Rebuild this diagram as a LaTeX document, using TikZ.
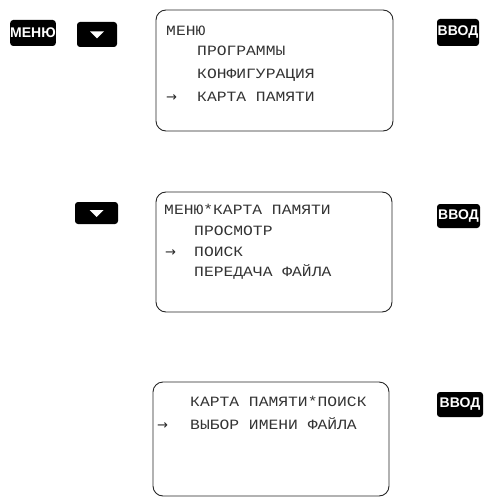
\documentclass[tikz,border=0pt]{standalone}
\usepackage{fontspec}
\newfontfamily\lcd[FakeStretch=1.15]{Liberation Mono}
\newfontfamily\btn{Liberation Sans}
\newfontfamily\arr{DejaVu Sans}
\begin{document}
\begin{tikzpicture}[x=1pt,y=-1pt,
  screen/.style={draw=black!85, line width=0.9pt, rounded corners=10pt, rectangle, inner sep=0pt},
  key/.style={fill=black, rounded corners=3pt, inner sep=0pt, text=white,
    font=\btn\bfseries\fontsize{14}{15}\selectfont},
  txt/.style={anchor=base west, inner sep=0pt, text=black!80,
    font=\lcd\fontsize{14.2}{16}\selectfont},
  arrow/.style={anchor=base west, inner sep=0pt, text=black!85,
    font=\arr\fontsize{13}{15}\selectfont}]
\useasboundingbox (0,0) rectangle (487,497);

% buttons, row 1
\node[key, minimum width=42pt, minimum height=26pt] (menu) at (33,33) {МЕНЮ};
\node[key, minimum width=40pt, minimum height=25pt] (down1) at (97,34.5) {};
\fill[white] ([xshift=-7pt,yshift=3pt]down1.center) -- ([xshift=7pt,yshift=3pt]down1.center) -- ([yshift=-4pt]down1.center) -- cycle;
\node[key, minimum width=42pt, minimum height=27pt] (enter1) at (458,32.5) {ВВОД};

% screen 1
\node[screen, minimum width=237pt, minimum height=121pt] (scr1) at (274.5,70.5) {};
\node[txt] (s1l1) at (166,36) {МЕНЮ};
\node[txt] (s1l2) at (197,56) {ПРОГРАММЫ};
\node[txt] (s1l3) at (197,79) {КОНФИГУРАЦИЯ};
\node[arrow] (s1a) at (166,102) {→};
\node[txt] (s1l4) at (197,102) {КАРТА ПАМЯТИ};

% row 2
\node[key, minimum width=43pt, minimum height=22pt] (down2) at (96.5,213) {};
\fill[white] ([xshift=-7pt,yshift=3pt]down2.center) -- ([xshift=7pt,yshift=3pt]down2.center) -- ([yshift=-4pt]down2.center) -- cycle;
\node[key, minimum width=43pt, minimum height=24pt] (enter2) at (458.5,216) {ВВОД};

\node[screen, minimum width=236pt, minimum height=120pt] (scr2) at (274,252) {};
\node[txt] (s2l1) at (164,214) {МЕНЮ*КАРТА ПАМЯТИ};
\node[txt] (s2l2) at (194,235) {ПРОСМОТР};
\node[arrow] (s2a) at (165,256) {→};
\node[txt] (s2l3) at (194,256) {ПОИСК};
\node[txt] (s2l4) at (194,276) {ПЕРЕДАЧА ФАЙЛА};

% row 3
\node[key, minimum width=46pt, minimum height=25pt] (enter3) at (460,404.5) {ВВОД};

\node[screen, minimum width=236pt, minimum height=114pt] (scr3) at (271,439) {};
\node[txt] (s3l1) at (190,406) {КАРТА ПАМЯТИ*ПОИСК};
\node[arrow] (s3a) at (157,429) {→};
\node[txt] (s3l2) at (190,429) {ВЫБОР ИМЕНИ ФАЙЛА};
\end{tikzpicture}
\end{document}
